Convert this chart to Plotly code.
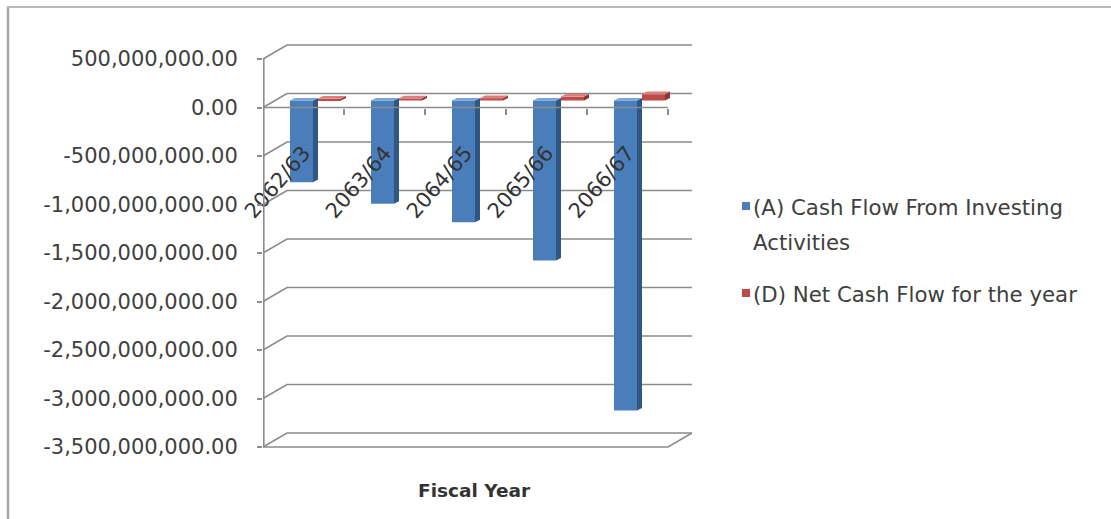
import plotly.graph_objects as go

# ---- data ----
years = ["2062/63", "2063/64", "2064/65", "2065/66", "2066/67"]
investing = [-842e6, -1065e6, -1255e6, -1650e6, -3196e6]   # (A)
net_flow = [20e6, 22e6, 24e6, 40e6, 65e6]                   # (D)
y_ticks = [500e6, 0, -500e6, -1000e6, -1500e6, -2000e6, -2500e6, -3000e6, -3500e6]
series_names = ["(A) Cash Flow From Investing", "Activities", "(D) Net Cash Flow for the year"]
axis_title = "Fiscal Year"

# ---- page geometry (pixels) ----
W, H = 1111, 519
ML, MR, MT, MB = 263, 419, 40, 71
PW, PH = W - ML - MR, H - MT - MB
CAT_PX = 81.0            # pixels per category
VAL_PX = 97.0 / 1e9      # pixels per unit of value
ZERO_PX = 107.5          # pixel row of the front zero line

X0 = -0.5
X1 = X0 + PW / CAT_PX
Y1 = (ZERO_PX - MT) / VAL_PX
Y0 = Y1 - PH / VAL_PX


def dxu(px):
    return px / CAT_PX


def dyv(px):
    return px / VAL_PX


def xp(px):
    return (px - ML) / PW


def yp(py):
    return (H - MB - py) / PH


# oblique depth of the walls
DEPTH_X, DEPTH_Y = 24, 14
MID_X, MID_Y = DEPTH_X / 2, DEPTH_Y / 2
BAR_W = dxu(23)
PAIR_OFF = dxu(14)
SIDE_X, SIDE_Y = dxu(5), dyv(2.6)

GRID = "#8c8c8c"
TEXT = "#404040"
FONT = "DejaVu Sans"

BLUE = dict(front="#4a7ebb", side="#2f5786", top="#7aa3d6")
RED = dict(front="#be4b48", side="#8c3533", top="#d9807d")

fig = go.Figure()

base = dyv(MID_Y)
centers = [i + dxu(MID_X) for i in range(len(years))]


def add_column_series(values, offset, colors, name):
    xs = [c + offset for c in centers]
    fig.add_trace(go.Bar(
        x=xs, y=values, base=[base] * len(values), width=BAR_W,
        marker=dict(color=colors["front"], line=dict(width=0)),
        name=name, showlegend=False, hoverinfo="skip"))
    side_x, side_y, top_x, top_y = [], [], [], []
    for x, v in zip(xs, values):
        xl, xr = x - BAR_W / 2, x + BAR_W / 2
        lo, hi = base + min(v, 0), base + max(v, 0)
        side_x += [xr, xr, xr + SIDE_X, xr + SIDE_X, xr, None]
        side_y += [lo, hi, hi + SIDE_Y, lo + SIDE_Y, lo, None]
        top_x += [xl, xr, xr + SIDE_X, xl + SIDE_X, xl, None]
        top_y += [hi, hi, hi + SIDE_Y, hi + SIDE_Y, hi, None]
    for px_, py_, col in ((side_x, side_y, colors["side"]), (top_x, top_y, colors["top"])):
        fig.add_trace(go.Scatter(
            x=px_, y=py_, mode="lines", fill="toself", fillcolor=col,
            line=dict(width=0, color=col), showlegend=False, hoverinfo="skip"))


add_column_series(investing, -PAIR_OFF, BLUE, series_names[0])
add_column_series(net_flow, PAIR_OFF, RED, series_names[2])

shapes = []
bx, by = dxu(DEPTH_X), dyv(DEPTH_Y)
# side-wall diagonals and back-wall gridlines
for v in y_ticks:
    shapes.append(dict(
        type="path", xref="x", yref="y", layer="below",
        path=f"M {X0},{v} L {X0 + bx},{v + by} L {X1},{v + by}",
        line=dict(color=GRID, width=1.6)))
# floor front edge and right edge
floor = y_ticks[-1]
x_end = len(years) - 0.5
shapes.append(dict(
    type="path", xref="x", yref="y", layer="below",
    path=f"M {X0},{floor} L {x_end},{floor} L {x_end + bx},{floor + by}",
    line=dict(color=GRID, width=1.6)))
# category axis along the front zero line
shapes.append(dict(type="line", xref="x", yref="y", layer="above",
                   x0=X0, x1=x_end, y0=0, y1=0, line=dict(color=GRID, width=1.6)))
# value axis line
shapes.append(dict(type="line", xref="x", yref="y", layer="above",
                   x0=X0 + dxu(0.8), x1=X0 + dxu(0.8), y0=y_ticks[-1], y1=y_ticks[0],
                   line=dict(color=GRID, width=1.6)))
# chart-area border (left and top)
shapes.append(dict(type="line", xref="paper", yref="paper",
                   x0=xp(8), x1=xp(8), y0=yp(7), y1=yp(H + 2),
                   line=dict(color="#a6a6a6", width=2.5)))
shapes.append(dict(type="line", xref="paper", yref="paper",
                   x0=xp(7), x1=xp(W + 2), y0=yp(7), y1=yp(7),
                   line=dict(color="#b8b8b8", width=2)))

# legend
legend_rows = [(BLUE["front"], 206, [(series_names[0], 207), (series_names[1], 242)]),
               (RED["front"], 293, [(series_names[2], 294)])]
annotations = []
for col, sq_y, lines in legend_rows:
    shapes.append(dict(type="rect", xref="paper", yref="paper",
                       x0=xp(742), x1=xp(750), y0=yp(sq_y + 4), y1=yp(sq_y - 4),
                       fillcolor=col, line=dict(width=0)))
    for txt, ty in lines:
        annotations.append(dict(text=txt, xref="paper", yref="paper",
                                x=xp(751), y=yp(ty), xanchor="left", yanchor="middle",
                                showarrow=False, font=dict(family=FONT, size=21.3, color=TEXT)))

annotations.append(dict(text=f"<b>{axis_title}</b>", xref="paper", yref="paper",
                        x=xp(474), y=yp(490), xanchor="center", yanchor="middle",
                        showarrow=False, font=dict(family=FONT, size=18.5, color="#333333")))

fig.update_layout(
    width=W, height=H, autosize=False,
    margin=dict(l=ML, r=MR, t=MT, b=MB, pad=0),
    paper_bgcolor="white", plot_bgcolor="white",
    barmode="overlay", showlegend=False,
    shapes=shapes, annotations=annotations,
    xaxis=dict(
        range=[X0, X1], anchor="free", position=yp(ZERO_PX),
        tickmode="array", tickvals=list(range(len(years))), ticktext=years,
        tickangle=-49, ticks="", showgrid=False, zeroline=False, showline=False,
        ticklabelstandoff=28,
        tickfont=dict(family=FONT, size=21, color="#333333"),
        minor=dict(tickmode="array", tickvals=[i + 0.5 for i in range(len(years))],
                   ticks="outside", ticklen=6, tickcolor=GRID, tickwidth=1.6, showgrid=False),
    ),
    yaxis=dict(
        range=[Y0, Y1], tickmode="array", tickvals=y_ticks,
        ticktext=[f"{v:,.2f}" for v in y_ticks],
        ticks="outside", ticklen=5, tickcolor=GRID, tickwidth=1.6,
        showgrid=False, zeroline=False, showline=False,
        ticklabelstandoff=15,
        tickfont=dict(family=FONT, size=21, color=TEXT),
    ),
)

fig.write_html("out.html")
